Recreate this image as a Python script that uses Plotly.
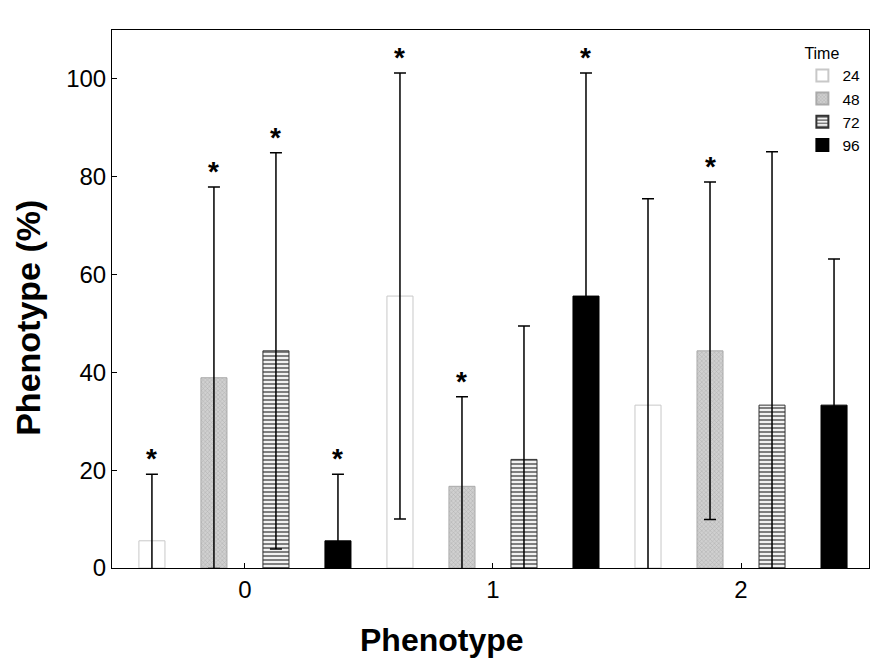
import plotly.graph_objects as go

categories = [0, 1, 2]
times = ["24", "48", "72", "96"]
means = {
    "24": [5.56, 55.6, 33.3],
    "48": [38.9, 16.7, 44.4],
    "72": [44.4, 22.2, 33.3],
    "96": [5.56, 55.6, 33.3],
}
errors = {
    "24": [13.6, 45.6, 42.2],
    "48": [39.0, 18.3, 34.5],
    "72": [40.5, 27.3, 51.8],
    "96": [13.6, 45.6, 29.9],
}
signif = {
    "24": [True, True, False],
    "48": [True, True, True],
    "72": [True, False, False],
    "96": [True, True, False],
}

styles = {
    "24": dict(color="white", line=dict(color="#c8c8c8", width=1)),
    "48": dict(color="#cccccc", line=dict(color="#aaaaaa", width=1),
               pattern=dict(shape="x", size=3, solidity=0.3, fgcolor="#8c8c8c", bgcolor="#d0d0d0")),
    "72": dict(color="white", line=dict(color="#333333", width=1),
               pattern=dict(shape="-", size=4, solidity=0.55, fgcolor="black", bgcolor="white")),
    "96": dict(color="black", line=dict(color="black", width=1)),
}

fig = go.Figure()
for t in times:
    fig.add_trace(go.Bar(
        x=categories, y=means[t], name=t, marker=styles[t],
        offsetgroup=t,
        error_y=dict(type="data", array=errors[t], visible=True,
                     color="black", thickness=1.5, width=6),
    ))

# asterisks above significant error bars
ngroups = len(times)
slot = 1.0 / ngroups
for i, t in enumerate(times):
    off = -0.5 + slot * (i + 0.5)
    for j, c in enumerate(categories):
        if signif[t][j]:
            fig.add_annotation(x=c + off, y=means[t][j] + errors[t][j], text="<b>*</b>",
                               showarrow=False, yanchor="bottom", yshift=-2,
                               font=dict(size=28, color="black", family="Liberation Sans, Arial"))

# axis titles (placed as in the reference, slightly off-centre)
fig.add_annotation(text="<b>Phenotype</b>", xref="paper", yref="paper",
                   x=0.436, y=-0.134, xanchor="center", yanchor="middle",
                   showarrow=False, font=dict(size=32, color="black"))
fig.add_annotation(text="<b>Phenotype (%)</b>", xref="paper", yref="paper",
                   x=-0.111, y=0.465, xanchor="center", yanchor="middle",
                   textangle=-90, showarrow=False, font=dict(size=34, color="black"))

fig.update_layout(
    width=888, height=666,
    margin=dict(l=112, r=19, t=30, b=98),
    paper_bgcolor="white", plot_bgcolor="white",
    barmode="group", bargap=0.0, bargroupgap=0.58,
    font=dict(family="Liberation Sans, Arial", color="black"),
    showlegend=True,
    legend=dict(title=dict(text="Time", font=dict(size=16)), font=dict(size=15.5),
                x=0.912, y=0.985, xanchor="left", yanchor="top",
                bgcolor="rgba(0,0,0,0)", itemsizing="constant",
                tracegroupgap=0, itemwidth=30),
)
fig.update_xaxes(
    range=[-0.536, 2.516], tickmode="array", tickvals=categories,
    ticktext=[str(c) for c in categories],
    ticks="inside", ticklen=5, tickcolor="black",
    showline=True, linecolor="black", linewidth=1, mirror=True,
    showgrid=False, zeroline=False, tickfont=dict(size=24),
)
fig.update_yaxes(
    range=[0, 110], tickvals=[0, 20, 40, 60, 80, 100],
    ticks="inside", ticklen=5, tickcolor="black",
    showline=True, linecolor="black", linewidth=1, mirror=True,
    showgrid=False, zeroline=False, tickfont=dict(size=24),
)
fig.write_html("out.html")
